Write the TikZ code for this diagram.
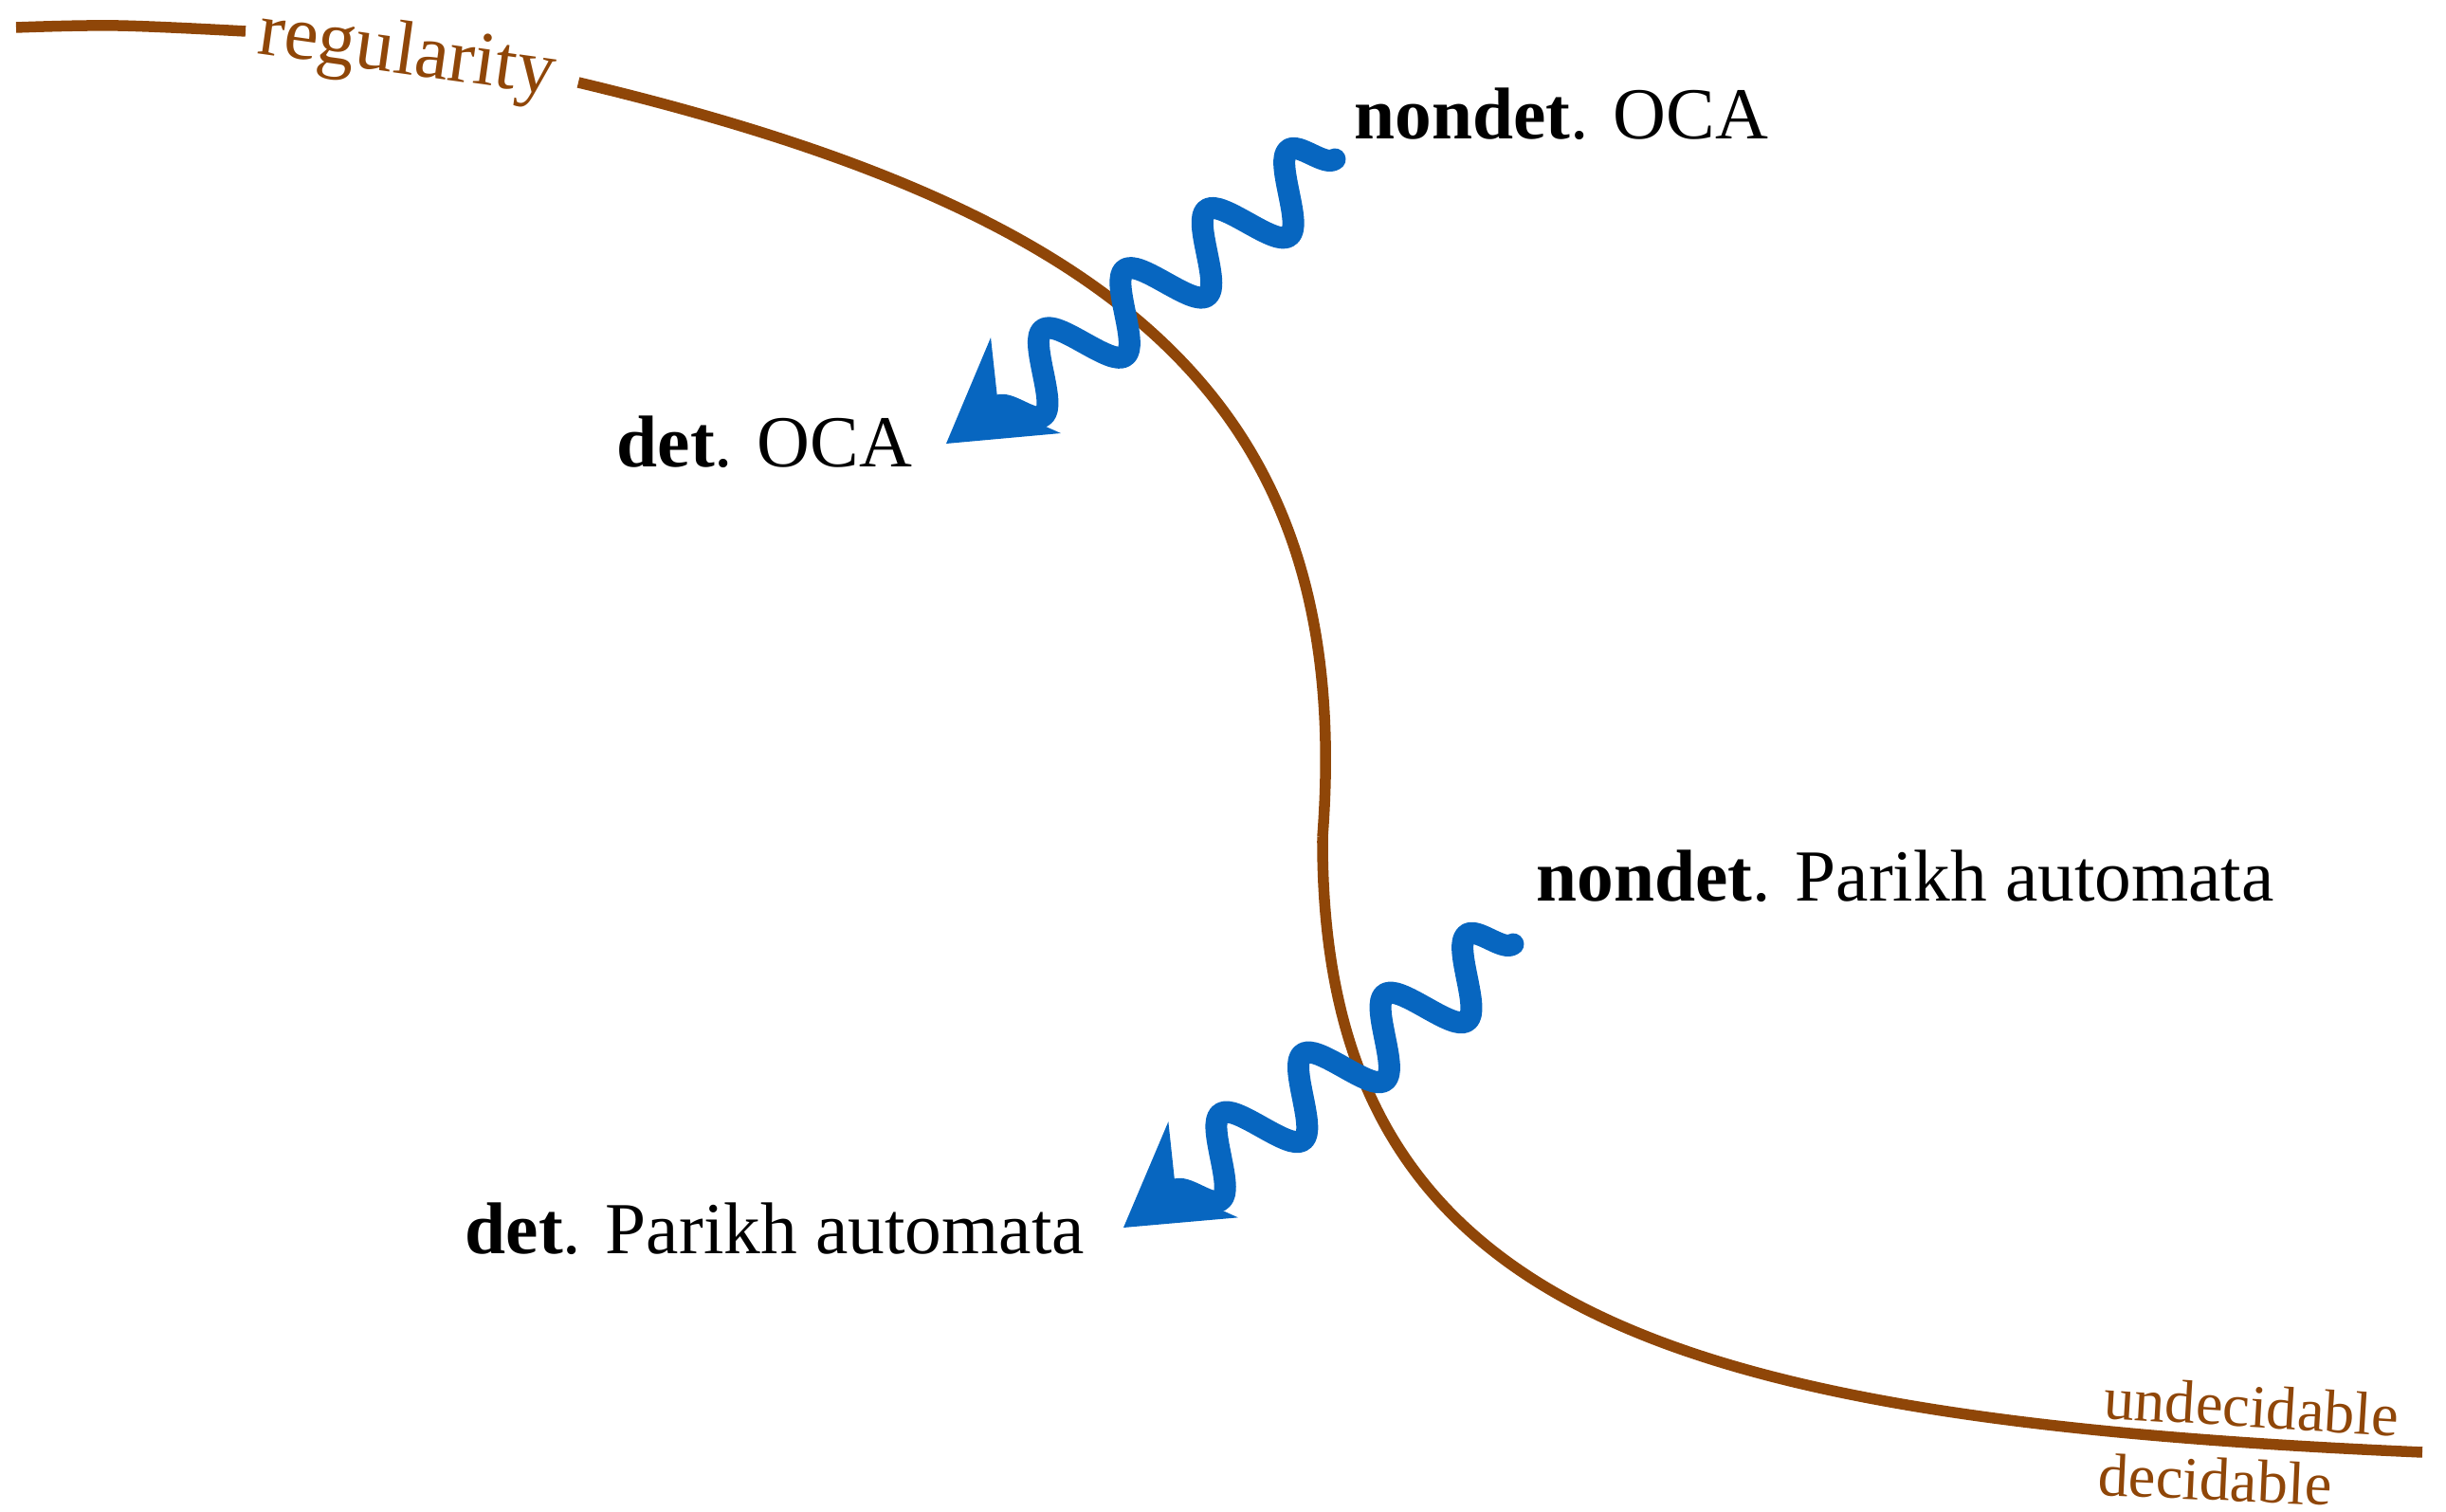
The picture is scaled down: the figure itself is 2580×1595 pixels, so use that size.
\documentclass[tikz,border=0pt]{standalone}
\usepackage{fontspec}
\setmainfont{Liberation Serif}
\usetikzlibrary{decorations.pathmorphing,arrows.meta}
\definecolor{curvebrown}{RGB}{143,70,8}
\definecolor{arrowblue}{RGB}{7,102,192}
\begin{document}
\begin{tikzpicture}[x=0.01cm,y=-0.01cm,
  boundary/.style={draw=curvebrown,line width=0.115cm,line cap=butt},
  lbl/.style={font=\fontsize{22}{26}\selectfont, inner sep=0pt, anchor=base west},
  side/.style={text=curvebrown, font=\fontsize{18.3}{22}\selectfont, inner sep=0pt, anchor=base west},
  squiggle/.style={draw=arrowblue, line width=0.23cm, line cap=round, line join=round, decorate,
    decoration={snake, amplitude=-0.37cm, segment length=1.07cm, post length=0.25cm},
    -{Stealth[length=1.04cm,width=1.25cm,inset=0.36cm,line width=0pt]}}
]
\useasboundingbox (0,0) rectangle (2580,1595);
% decidability boundary
\draw[boundary] plot[smooth, tension=0.6] coordinates {(17,29) (124,27) (259,33)};
\draw[boundary] (610,87) .. controls (1194,226) and (1429,434) .. (1395,883);
\draw[boundary] (1395,883) .. controls (1393,1383) and (1755,1497) .. (2555,1532);
% labels of the boundary
\node[side, rotate=-8, font=\fontsize{23}{27}\selectfont] (reg) at (270,56) {regularity};
\node[side, rotate=-3.5] (undec) at (2218,1496) {undecidable};
\node[side, rotate=-2.6] (dec) at (2212,1577) {decidable};
% classes
\node[lbl] (nOCA) at (1428,147) {\textbf{nondet}. OCA};
\node[lbl] (dOCA) at (650,493) {\textbf{det}. OCA};
\node[lbl] (nPA) at (1620,951) {\textbf{nondet}. Parikh automata};
\node[lbl] (dPA) at (490,1323) {\textbf{det}. Parikh automata};
% reductions
\coordinate (a1s) at (1408,168);
\coordinate (a1e) at (998,468);
\coordinate (a2s) at (1596,996);
\coordinate (a2e) at (1185,1295);
\draw[squiggle] (a1s) -- (a1e);
\draw[squiggle] (a2s) -- (a2e);
\end{tikzpicture}
\end{document}
